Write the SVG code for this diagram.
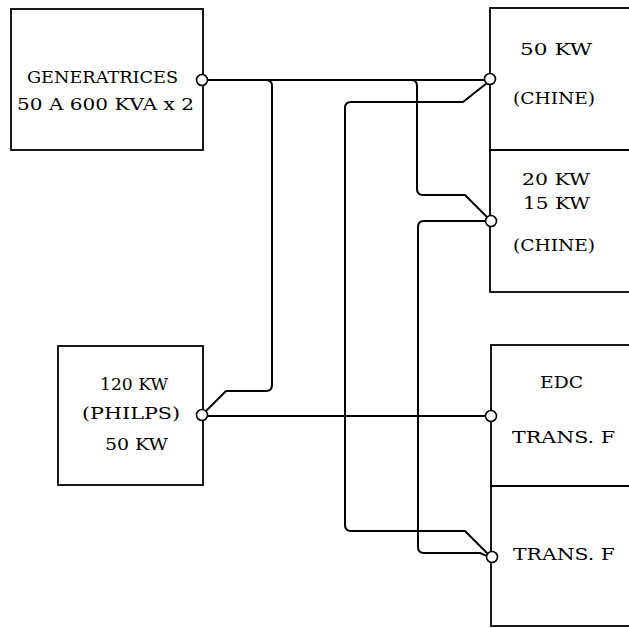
<svg xmlns="http://www.w3.org/2000/svg" width="629" height="628" viewBox="0 0 629 628">
<style>
.box{fill:none;stroke:#000;stroke-width:1.8}
.wire{fill:none;stroke:#000;stroke-width:2;stroke-linejoin:round}
.term{fill:#fff;stroke:#000;stroke-width:1.6}
text{font-family:"DejaVu Serif","Liberation Serif",serif;font-size:16px;fill:#000}
</style>
<rect width="629" height="628" fill="#fff"/>
<g id="connectors">
<path class="wire" d="M207,80 H485"/>
<path class="wire" d="M266,80 Q272,80 272,86 V385 Q272,391 266,391 H226 L205,412"/>
<path class="wire" d="M207,416 H486"/>
<path class="wire" d="M487,83 L463,102 H351 Q345,102 345,108 V525 Q345,531 351,531 H465 L488,554"/>
<path class="wire" d="M411,80 Q417,80 417,86 V189 Q417,195 423,195 H465 L487,217"/>
<path class="wire" d="M486,221 H424 Q418,221 418,227 V547 Q418,553 424,553 H480 L487,556"/>
</g>
<g id="generatrices">
<rect class="box" x="11" y="9" width="192" height="141"/>
<text x="27" y="83" textLength="151" lengthAdjust="spacingAndGlyphs">GENERATRICES</text>
<text x="17" y="110" textLength="177" lengthAdjust="spacingAndGlyphs">50 A 600 KVA x 2</text>
<circle class="term" cx="202" cy="80" r="5.5"/>
</g>
<g id="philips">
<rect class="box" x="58" y="346" width="145" height="139"/>
<text x="100" y="390" textLength="68" lengthAdjust="spacingAndGlyphs">120 KW</text>
<text x="82" y="419" textLength="98" lengthAdjust="spacingAndGlyphs">(PHILPS)</text>
<text x="105" y="450" textLength="63" lengthAdjust="spacingAndGlyphs">50 KW</text>
<circle class="term" cx="202" cy="415" r="5.5"/>
</g>
<g id="chine50">
<rect class="box" x="490" y="8" width="150" height="142"/>
<text x="520" y="55" textLength="72" lengthAdjust="spacingAndGlyphs">50 KW</text>
<text x="513" y="104" textLength="82" lengthAdjust="spacingAndGlyphs">(CHINE)</text>
<circle class="term" cx="490" cy="79" r="5.5"/>
</g>
<g id="chine20">
<rect class="box" x="490" y="150" width="150" height="142"/>
<text x="522" y="185" textLength="68" lengthAdjust="spacingAndGlyphs">20 KW</text>
<text x="523" y="209" textLength="67" lengthAdjust="spacingAndGlyphs">15 KW</text>
<text x="513" y="251" textLength="82" lengthAdjust="spacingAndGlyphs">(CHINE)</text>
<circle class="term" cx="491" cy="221" r="5.5"/>
</g>
<g id="edc">
<rect class="box" x="491" y="345" width="150" height="141"/>
<text x="540" y="388" textLength="43" lengthAdjust="spacingAndGlyphs">EDC</text>
<text x="512" y="443" textLength="103" lengthAdjust="spacingAndGlyphs">TRANS. F</text>
<circle class="term" cx="491" cy="416" r="5.5"/>
</g>
<g id="trans">
<rect class="box" x="491" y="486" width="150" height="140"/>
<text x="513" y="560" textLength="102" lengthAdjust="spacingAndGlyphs">TRANS. F</text>
<circle class="term" cx="492" cy="557" r="5.5"/>
</g>
</svg>
